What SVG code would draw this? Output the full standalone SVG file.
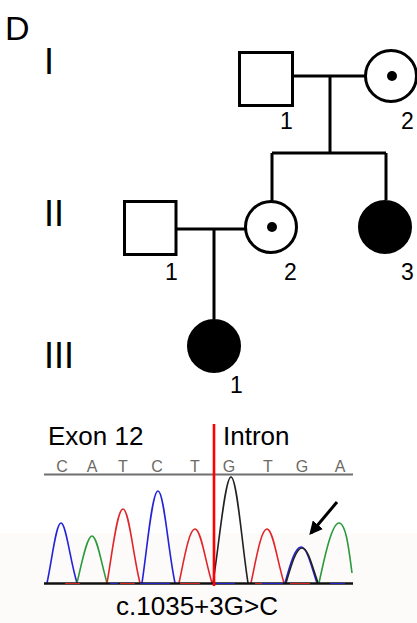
<svg xmlns="http://www.w3.org/2000/svg" width="417" height="623" viewBox="0 0 417 623">
<defs>
<style>
.t{font-family:"Liberation Sans",Arial,sans-serif;fill:#000}
.sym{fill:#fff;stroke:#000;stroke-width:3}
.aff{fill:#000;stroke:#000;stroke-width:3}
.con{fill:none;stroke:#000;stroke-width:3}
.base{font-family:"Liberation Sans",Arial,sans-serif;font-size:16px;fill:#6c6a64;text-anchor:middle}
.pk{fill:none;stroke-width:1.6;stroke-linejoin:round}
</style>
<marker id="ah" viewBox="0 0 10 10" refX="8" refY="5" markerWidth="4.5" markerHeight="4.5" orient="auto" markerUnits="strokeWidth">
<path d="M0,0 L10,5 L0,10 z" fill="#000"/>
</marker>
</defs>
<rect width="417" height="623" fill="#fff"/>
<rect x="0" y="533" width="417" height="90" fill="#fdfafa"/>

<text class="t" x="5" y="40" font-size="34">D</text>
<text class="t" x="44" y="74" font-size="36">I</text>
<text class="t" x="44" y="226" font-size="36">II</text>
<text class="t" x="44" y="368" font-size="36">III</text>

<g id="connectors">
<path class="con" d="M293,76 H365"/>
<path class="con" d="M330,76 V153"/>
<path class="con" d="M272,153 H386"/>
<path class="con" d="M272,153 V201"/>
<path class="con" d="M386,153 V200"/>
<path class="con" d="M176,229 H245"/>
<path class="con" d="M214,229 V319"/>
</g>

<g id="I-1">
<rect class="sym" x="239.5" y="52.5" width="53" height="53"/>
<text class="t" x="280" y="129" font-size="23">1</text>
</g>
<g id="I-2">
<circle class="sym" cx="391" cy="76" r="25.5"/>
<circle cx="392" cy="76" r="5" fill="#000"/>
<text class="t" x="401" y="129" font-size="23">2</text>
</g>
<g id="II-1">
<rect class="sym" x="124.5" y="201.5" width="51.5" height="53"/>
<text class="t" x="165" y="280" font-size="23">1</text>
</g>
<g id="II-2">
<circle class="sym" cx="271" cy="227" r="25.5"/>
<circle cx="272" cy="227" r="5" fill="#000"/>
<text class="t" x="284" y="280" font-size="23">2</text>
</g>
<g id="II-3">
<circle class="aff" cx="385" cy="227" r="25.5"/>
<text class="t" x="401" y="280" font-size="23">3</text>
</g>
<g id="III-1">
<circle class="aff" cx="214" cy="346" r="25.5"/>
<text class="t" x="230" y="393" font-size="23">1</text>
</g>

<g id="chromatogram">
<text class="t" x="48" y="445" font-size="26">Exon 12</text>
<text class="t" x="223" y="445" font-size="26">Intron</text>
<text class="base" x="62" y="472">C</text>
<text class="base" x="92" y="472">A</text>
<text class="base" x="123" y="472">T</text>
<text class="base" x="157" y="472">C</text>
<text class="base" x="195" y="472">T</text>
<text class="base" x="229" y="472">G</text>
<text class="base" x="268" y="472">T</text>
<text class="base" x="302" y="472">G</text>
<text class="base" x="340" y="472">A</text>
<path d="M44,474.5 H353" stroke="#6f6f6f" stroke-width="2"/>

<path class="pk" stroke="#2323d8" d="M47,583 C52,560 56,523 61,523 S70,560 77,583"/>
<path class="pk" stroke="#2a9a3a" d="M77,583 C82,562 87,536 92,536 S101,562 107,583"/>
<path class="pk" stroke="#e0262a" d="M107,583 C112,555 117,509 123,509 S133,555 140,583"/>
<path class="pk" stroke="#2323d8" d="M142,583 C147,550 152,491 158,491 S168,550 175,583"/>
<path class="pk" stroke="#e0262a" d="M179,583 C184,560 189,529 195,529 S205,560 212,583"/>
<path class="pk" stroke="#222" d="M213,583 C219,545 225,477 231,477 S242,545 248,583"/>
<path class="pk" stroke="#e0262a" d="M251,583 C256,560 261,529 267,529 S277,560 284,583"/>
<path class="pk" stroke="#2323d8" d="M285,583 C290,565 295,547 301,547 S311,565 317,583"/>
<path class="pk" stroke="#222" d="M286,583 C291,566 296,548 302,548 S312,566 318,583" stroke-width="1.2"/>
<path class="pk" stroke="#2a9a3a" d="M319,583 C325,555 332,523 339,523 S349,550 352,573"/>

<path d="M44,583.5 H353" stroke="#111" stroke-width="2.6"/>
<path d="M65,583.5 H80 M120,583.5 H135 M180,583.5 H200 M255,583.5 H275 M290,583.5 H310" stroke="#d02020" stroke-width="1"/>
<path d="M110,583.5 H118 M140,583.5 H170 M215,583.5 H235 M262,583.5 H283 M330,583.5 H345" stroke="#2020c8" stroke-width="1"/>

<path d="M214,424 V586" stroke="#ff0000" stroke-width="2.6"/>
<path d="M337,502 L311,533" stroke="#000" stroke-width="3" marker-end="url(#ah)"/>
<text class="t" x="197" y="615" font-size="26" text-anchor="middle">c.1035+3G&gt;C</text>
</g>
</svg>
